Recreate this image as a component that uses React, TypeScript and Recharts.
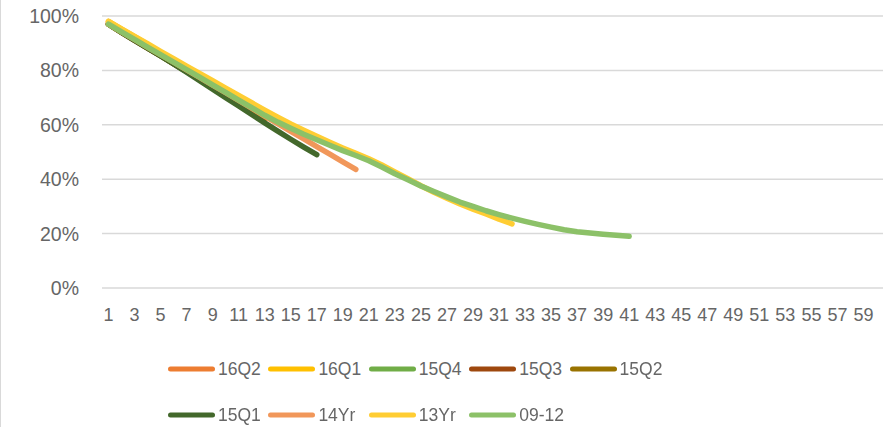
import React from "react";
import { CartesianGrid, Legend, Line, LineChart, XAxis, YAxis } from "recharts";

const months = [
  "1", "2", "3", "4", "5", "6", "7", "8", "9", "10",
  "11", "12", "13", "14", "15", "16", "17", "18", "19", "20",
  "21", "22", "23", "24", "25", "26", "27", "28", "29", "30",
  "31", "32", "33", "34", "35", "36", "37", "38", "39", "40",
  "41", "42", "43", "44", "45", "46", "47", "48", "49", "50",
  "51", "52", "53", "54", "55", "56", "57", "58", "59", "60",
];

const yTicks = [0, 20, 40, 60, 80, 100];

// remaining balance, % of original
const s16Q2 = [97.5, 94.5];
const s16Q1 = [98, 95.2, 92.4, 89.6];
const s15Q4 = [97, 94, 91.2, 88.3, 85.4, 82.5, 79.6, 76.8, 74, 71.2, 68.4, 65.6, 62.8];
const s15Q3 = [97, 94, 91, 88.2, 85.4, 82.5, 79.6, 76.7, 73.8, 71];
const s15Q2 = [97, 94.1, 91.2, 88.3, 85.4, 82.5, 79.6, 76.7, 73.8, 70.9, 68, 65.1, 62.2];
const s15Q1 = [97, 94, 91, 88.2, 85.3, 82.4, 79.3, 76.2, 73.1, 70, 66.9, 63.8, 60.7, 57.7, 54.7, 51.8, 49];
const s14Yr = [97, 94.2, 91.4, 88.6, 85.8, 83, 80.2, 77.4, 74.6, 71.8, 69, 66.1, 63.2, 60.4, 57.6, 54.8, 52, 49.2, 46.4, 43.6];
const s13Yr = [
  98, 95.3, 92.5, 89.8, 87, 84.3, 81.6, 78.9, 76.2, 73.5,
  70.8, 68.1, 65.4, 62.8, 60.3, 58, 55.8, 53.6, 51.5, 49.5,
  47.5, 45.2, 42.7, 40.2, 37.6, 35.2, 33, 30.9, 29, 27.2,
  25.3, 23.6,
];
const s0912 = [
  97, 94.2, 91.4, 88.6, 85.8, 83, 80.3, 77.5, 74.7, 71.9,
  69.1, 66.3, 63.5, 61, 58.7, 56.5, 54.5, 52.5, 50.5, 48.7,
  46.8, 44.5, 42, 39.8, 37.5, 35.5, 33.5, 31.6, 30, 28.4,
  27, 25.7, 24.5, 23.4, 22.4, 21.4, 20.7, 20.2, 19.8, 19.4,
  19,
];

const series = [
  { key: "16Q2", values: s16Q2, color: "#ED7D31" },
  { key: "16Q1", values: s16Q1, color: "#FFC000" },
  { key: "15Q4", values: s15Q4, color: "#70AD47" },
  { key: "15Q3", values: s15Q3, color: "#9E480E" },
  { key: "15Q2", values: s15Q2, color: "#997300" },
  { key: "15Q1", values: s15Q1, color: "#43682B" },
  { key: "14Yr", values: s14Yr, color: "#F1975A" },
  { key: "13Yr", values: s13Yr, color: "#FFCD33" },
  { key: "09-12", values: s0912, color: "#8CC168" },
];

const data = months.map((m, i) => {
  const row: Record<string, string | number | null> = { month: m };
  for (const s of series) row[s.key] = i < s.values.length ? s.values[i] : null;
  return row;
});

const FONT = "'Liberation Sans', Arial, sans-serif";
const TEXT = "#666666";

function LegendBox() {
  return (
    <div
      style={{
        display: "flex",
        flexWrap: "wrap",
        width: 502,
        marginLeft: 167,
        fontFamily: FONT,
        fontSize: 17.5,
        color: TEXT,
      }}
    >
      {series.map((s) => (
        <div key={s.key} style={{ width: 100.4, height: 46, display: "flex", alignItems: "center" }}>
          <svg width={47} height={8} style={{ display: "block" }}>
            <line x1={2.5} y1={4} x2={44.5} y2={4} stroke={s.color} strokeWidth={5} strokeLinecap="round" />
          </svg>
          <span style={{ marginLeft: 3 }}>{s.key}</span>
        </div>
      ))}
    </div>
  );
}

export default function App() {
  return (
    <div
      style={{
        position: "fixed",
        left: 0,
        top: 0,
        width: 895,
        height: 427,
        background: "#fff",
        borderLeft: "1px solid #d9d9d9",
        boxSizing: "border-box",
      }}
    >
      <LineChart width={894} height={427} data={data} margin={{ top: 16, right: 12, left: 0, bottom: 17 }}>
        <CartesianGrid vertical={false} stroke="#d9d9d9" strokeWidth={1.5} />
        <XAxis
          dataKey="month"
          interval={1}
          padding={{ left: 6.5, right: 6.5 }}
          axisLine={false}
          tickLine={false}
          tickMargin={14}
          tick={{ fontSize: 18, fill: TEXT, fontFamily: FONT }}
        />
        <YAxis
          width={101}
          domain={[0, 100]}
          ticks={yTicks}
          tickFormatter={(v) => `${v}%`}
          axisLine={false}
          tickLine={false}
          tickMargin={17}
          tick={{ fontSize: 19.5, fill: TEXT, fontFamily: FONT }}
        />
        <Legend
          verticalAlign="bottom"
          content={() => <LegendBox />}
          wrapperStyle={{ left: 0, width: 894, bottom: -11 }}
        />
        {series.map((s) => (
          <Line
            key={s.key}
            type="linear"
            dataKey={s.key}
            stroke={s.color}
            strokeWidth={5.5}
            strokeLinecap="round"
            strokeLinejoin="round"
            dot={false}
            activeDot={false}
            connectNulls={false}
            isAnimationActive={false}
          />
        ))}
      </LineChart>
    </div>
  );
}
